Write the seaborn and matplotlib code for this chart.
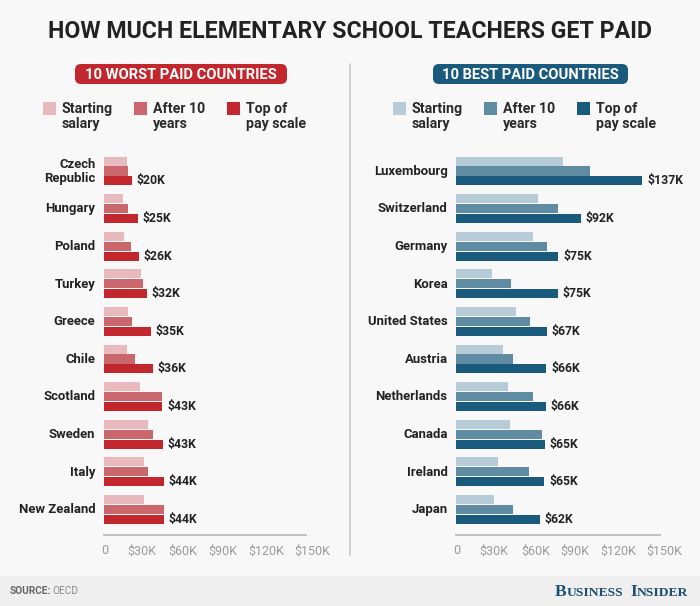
import matplotlib

matplotlib.use("Agg")
import matplotlib.pyplot as plt
import pandas as pd
import seaborn as sns
from matplotlib.patches import FancyBboxPatch, Rectangle
from matplotlib.transforms import ScaledTranslation

W, H = 700, 606
BG = "#f8f8f8"
DARK = "#222222"

series_names = ["Starting\nsalary", "After 10\nyears", "Top of\npay scale"]
tick_values = [0, 30, 60, 90, 120, 150]
tick_labels = ["0", "$30K", "$60K", "$90K", "$120K", "$150K"]

worst_countries = ["Czech\nRepublic", "Hungary", "Poland", "Turkey", "Greece",
                   "Chile", "Scotland", "Sweden", "Italy", "New Zealand"]
worst_start = [17.3, 14.6, 15.3, 27.9, 18.3, 17.3, 27.2, 32.6, 29.6, 29.6]
worst_after10 = [17.8, 18.0, 20.5, 28.9, 21.2, 23.5, 43.5, 36.8, 32.6, 44.7]
worst_top = [21.0, 25.2, 25.9, 31.9, 35.0, 36.5, 43.5, 44.0, 44.4, 44.7]
worst_labels = ["$20K", "$25K", "$26K", "$32K", "$35K",
                "$36K", "$43K", "$43K", "$44K", "$44K"]

best_countries = ["Luxembourg", "Switzerland", "Germany", "Korea", "United States",
                  "Austria", "Netherlands", "Canada", "Ireland", "Japan"]
best_start = [78.8, 60.1, 56.9, 26.8, 43.9, 34.4, 38.0, 39.8, 30.7, 28.2]
best_after10 = [98.7, 75.1, 66.8, 40.5, 54.5, 41.7, 56.9, 63.3, 54.0, 42.0]
best_top = [137.2, 92.0, 75.4, 75.1, 67.0, 66.5, 66.3, 65.5, 65.0, 61.9]
best_labels = ["$137K", "$92K", "$75K", "$75K", "$67K",
               "$66K", "$66K", "$65K", "$65K", "$62K"]

sns.set_theme(style="white")
plt.rcParams["font.family"] = ["Roboto", "DejaVu Sans"]


def draw_panel(fig, left, right, legend_x, countries, start, after10, top, labels, colors, tick_shift):
    ax = fig.add_axes([left / W, 1 - 534.7 / H, (right - left) / W, 382.5 / H])
    ax.set_facecolor("none")
    df = pd.DataFrame({
        "country": countries * 3,
        "series": sum([[s] * 10 for s in series_names], []),
        "value": start + after10 + top,
    })
    sns.barplot(data=df, y="country", x="value", hue="series", hue_order=series_names,
                palette=colors, orient="y", width=0.79, gap=0.08, saturation=1,
                linewidth=0, ax=ax)
    ax.set_xlim(0, 150)
    ax.set_ylim(9.673, -0.5)
    ax.set_xlabel("")
    ax.set_ylabel("")
    ax.bar_label(ax.containers[2], labels=labels, padding=3.5, fontsize=8.8,
                 fontweight="bold", color=DARK)
    for side in ["top", "right", "left"]:
        ax.spines[side].set_visible(False)
    ax.spines["bottom"].set_color("#bcbcbc")
    ax.spines["bottom"].set_linewidth(1.3)
    ax.tick_params(axis="y", length=0, pad=6, labelsize=9.45, labelcolor=DARK)
    for t in ax.get_yticklabels():
        t.set_fontweight("bold")
        t.set_linespacing(1.05)
        t.set_transform(t.get_transform() + ScaledTranslation(0, 1.2 / 100, fig.dpi_scale_trans))
    ax.set_xticks(tick_values, tick_labels)
    ax.tick_params(axis="x", length=0, pad=7, labelsize=9, labelcolor="#9a9a9a")
    for t, dx in zip(ax.get_xticklabels(), tick_shift):
        t.set_transform(t.get_transform() + ScaledTranslation(dx / 100, 0, fig.dpi_scale_trans))

    handles, _ = ax.get_legend_handles_labels()
    leg = ax.legend(handles, series_names, loc="upper left", ncol=3, frameon=False,
                    bbox_to_anchor=(legend_x / W, 1 - 102 / H),
                    bbox_transform=fig.transFigure,
                    prop={"family": "Roboto", "weight": "bold", "size": 10.2},
                    handlelength=0.92, handleheight=0.95, handletextpad=0.42,
                    columnspacing=1.5, borderpad=0, borderaxespad=0, labelspacing=0)
    for txt in leg.get_texts():
        txt.set_color("#2a2a2a")
        txt.set_linespacing(1.1)
    # swatches line up with the first text line, not the middle of the label
    for p in leg.get_patches():
        mid = p.get_y() + p.get_height() / 2
        p.set_width(9.4)
        p.set_height(9.4)
        p.set_y(mid + 6.3 - 4.7)
        p.set_linewidth(0)
    return ax


fig = plt.figure(figsize=(W / 100, H / 100), dpi=100, facecolor=BG)

# page furniture, in pixel coordinates
page = fig.add_axes([0, 0, 1, 1])
page.set_xlim(0, W)
page.set_ylim(H, 0)
page.axis("off")
page.add_patch(Rectangle((0, 575.7), W, 30.3, color="#efefef", lw=0))
page.plot([350, 350], [64, 555], color="#c8c8c8", lw=1.2)
page.text(350, 32, "HOW MUCH ELEMENTARY SCHOOL TEACHERS GET PAID", ha="center", va="center",
          fontsize=16.7, fontweight="bold", color="#222222")

for x0, x1, col, txt in [(75, 287, "#c1272d", "10 WORST PAID COUNTRIES"),
                         (433, 628, "#1a5a7c", "10 BEST PAID COUNTRIES")]:
    page.add_patch(FancyBboxPatch((x0 + 6, 70), x1 - x0 - 12, 8,
                                  boxstyle="round,pad=6,rounding_size=6", lw=0, fc=col))
    page.text((x0 + x1) / 2, 75, txt, ha="center", va="center", color="white",
              fontsize=10.65, fontweight="bold")

page.text(10, 591, "SOURCE:", ha="left", va="center", fontsize=7.3, fontweight="bold", color="#666666")
page.text(52, 591, "OECD", ha="left", va="center", fontsize=7.3, color="#8a8a8a")

# small caps wordmark
bi_color = "#1d4f70"
x = 555
for piece, size, gap in [("B", 12.5, 0), ("USINESS", 9.7, 7), ("I", 12.5, 0), ("NSIDER", 9.7, 0)]:
    t = page.text(x, 596, piece, ha="left", va="baseline", fontsize=size, fontweight="bold",
                  family="Liberation Serif", color=bi_color)
    x += t.get_window_extent(fig.canvas.get_renderer()).width + gap

draw_panel(fig, 103.7, 306.3, 43, worst_countries, worst_start, worst_after10, worst_top, worst_labels,
           ["#e8b9bd", "#c9676c", "#c1272d"], [1.5, -2, -2, -2, 0, 6])
draw_panel(fig, 456, 659.7, 393, best_countries, best_start, best_after10, best_top, best_labels,
           ["#b8ccd8", "#5f8ba3", "#1a5a7c"], [1, -2.5, -2, -3, -1, 5])

fig.savefig("out.png", dpi=100, facecolor=BG)
